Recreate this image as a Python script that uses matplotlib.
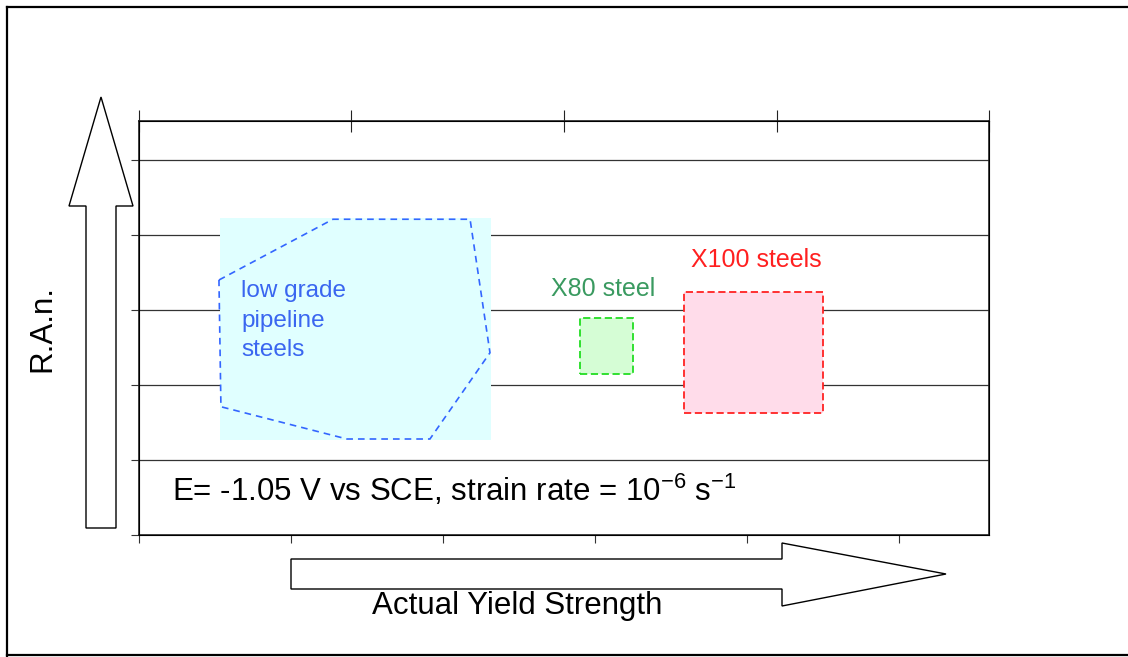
import matplotlib.pyplot as plt
from matplotlib.patches import Polygon, Rectangle
from matplotlib.lines import Line2D
import numpy as np

plt.rcParams['font.family'] = ['Liberation Sans', 'DejaVu Sans']
plt.rcParams['mathtext.fontset'] = 'custom'
plt.rcParams['mathtext.rm'] = 'Liberation Sans'

# axis ranges (arbitrary units, the original hides its tick labels)
x_min, x_max = 300, 859.2
y_min, y_max = 0.0, 0.552
x_ticks = [300, 400, 500, 600, 700, 800]
y_ticks = [0.0, 0.1, 0.2, 0.3, 0.4, 0.5]

# low grade pipeline steels: background box and dashed outline
low_box_x = [353.3, 531.6]
low_box_y = [0.127, 0.423]
low_poly_x = [352.6, 427.6, 517.8, 530.9, 491.4, 436.8, 353.9]
low_poly_y = [0.340, 0.421, 0.421, 0.243, 0.128, 0.128, 0.171]

# X80 and X100 regions
x80_x = [590.1, 625.0]
x80_y = [0.215, 0.289]
x100_x = [658.6, 750.0]
x100_y = [0.163, 0.324]

W, H = 1128, 657
fig = plt.figure(figsize=(W / 100, H / 100), dpi=100)
ax = fig.add_axes([139 / W, 1 - 535 / H, 850 / W, 414 / H])

ax.set_xlim(x_min, x_max)
ax.set_ylim(y_min, y_max)
ax.set_xticks(x_ticks)
ax.set_yticks(y_ticks)
ax.set_xticklabels([])
ax.set_yticklabels([])
ax.tick_params(direction='out', length=6, width=0.8, colors='#333333')
for s in ax.spines.values():
    s.set_linewidth(1.2)
    s.set_color('#222222')
for yt in y_ticks[1:]:
    ax.axhline(yt, color='#333333', lw=0.9, zorder=1)

# top secondary axis with its own ticks
top = ax.twiny()
top.set_xlim(x_min, x_max)
top.set_xticks(np.linspace(x_min, x_max, 5))
top.set_xticklabels([])
top.tick_params(direction='inout', length=16, width=0.8, colors='#222222')

# low grade box
ax.add_patch(Rectangle((low_box_x[0], low_box_y[0]), low_box_x[1] - low_box_x[0],
                       low_box_y[1] - low_box_y[0], facecolor='#e0ffff',
                       edgecolor='none', zorder=2))
ax.add_patch(Polygon(np.column_stack([low_poly_x, low_poly_y]), closed=True,
                     facecolor='none', edgecolor='#3366ff', lw=1.2,
                     linestyle=(0, (4, 3)), zorder=3))
ax.text(367.1, 0.340, 'low grade\npipeline\nsteels', color='#3a66f0', fontsize=17.5,
        va='top', ha='left', linespacing=1.45, zorder=4)

# X80
ax.add_patch(Rectangle((x80_x[0], x80_y[0]), x80_x[1] - x80_x[0], x80_y[1] - x80_y[0],
                       facecolor='#d5fdd5', edgecolor='#22dd22', lw=1.3,
                       linestyle=(0, (4, 2)), zorder=3))
ax.text(605.3, 0.328, 'X80 steel', color='#3a9a60', fontsize=18,
        ha='center', va='center', zorder=4)

# X100
ax.add_patch(Rectangle((x100_x[0], x100_y[0]), x100_x[1] - x100_x[0], x100_y[1] - x100_y[0],
                       facecolor='#ffdcea', edgecolor='#ff2222', lw=1.3,
                       linestyle=(0, (4, 2)), zorder=3))
ax.text(705.9, 0.367, 'X100 steels', color='#ff2020', fontsize=18,
        ha='center', va='center', zorder=4)

ax.text(321.7, 0.06, r'E= -1.05 V vs SCE, strain rate = 10$^{\mathrm{-6}}$ s$^{\mathrm{-1}}$',
        fontsize=22.5, ha='left', va='center', zorder=4)


def fig_pts(pts):
    return [(x / W, 1 - y / H) for x, y in pts]


# axis arrows (drawn in figure pixels)
up_arrow = [(86, 528), (116, 528), (116, 206), (133, 206), (101, 97), (69, 206), (86, 206)]
right_arrow = [(291, 559), (782, 559), (782, 543), (946, 574), (782, 606), (782, 589), (291, 589)]
for pts in (up_arrow, right_arrow):
    fig.add_artist(Polygon(fig_pts(pts), closed=True, facecolor='white',
                           edgecolor='black', lw=1.0, transform=fig.transFigure))

fig.text(42 / W, 1 - 328 / H, 'R.A.n.', rotation=90, fontsize=22.5,
         ha='center', va='center')
fig.text(517 / W, 1 - 606 / H, 'Actual Yield Strength', fontsize=22.5,
         ha='center', va='center')

# outer frame (left, top, bottom)
for xs, ys in [([7, 7], [7, 656]), ([7, W], [7, 7]), ([7, W], [655, 655])]:
    fig.add_artist(Line2D([x / W for x in xs], [1 - y / H for y in ys],
                          color='black', lw=1.6, transform=fig.transFigure))

fig.savefig('out.png', dpi=100)
